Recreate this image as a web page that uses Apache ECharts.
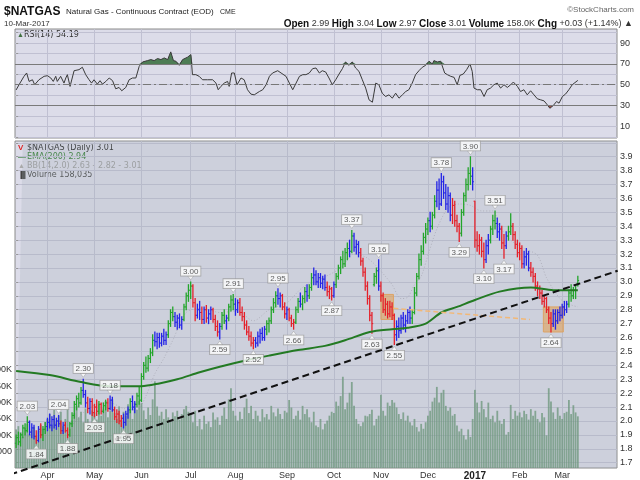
<!DOCTYPE html>
<html>
<head>
<meta charset="utf-8">
<script src="https://cdn.jsdelivr.net/npm/echarts@6/dist/echarts.min.js"></script>
<style>
  html, body { margin: 0; padding: 0; background: #fff; }
  #chart { width: 640px; height: 480px; }
</style>
</head>
<body>
<div id="chart"></div>
<script>
// x axis is the trading-day index (0 = 11-Mar-2016, 251 = 10-Mar-2017)
var monthIdx = [14, 35, 56, 78, 98, 121, 142, 163, 184, 205, 225, 244];
var monthNames = ['Apr', 'May', 'Jun', 'Jul', 'Aug', 'Sep', 'Oct', 'Nov', 'Dec', '2017', 'Feb', 'Mar'];

var priceTicks = [1.7, 1.8, 1.9, 2.0, 2.1, 2.2, 2.3, 2.4, 2.5, 2.6, 2.7, 2.8, 2.9, 3.0, 3.1, 3.2, 3.3, 3.4, 3.5, 3.6, 3.7, 3.8, 3.9, 4.0];
var priceLabels = [1.7, 1.8, 1.9, 2.0, 2.1, 2.2, 2.3, 2.4, 2.5, 2.6, 2.7, 2.8, 2.9, 3.0, 3.1, 3.2, 3.3, 3.4, 3.5, 3.6, 3.7, 3.8, 3.9];
var rsiTicks = [0, 10, 20, 30, 40, 50, 60, 70, 80, 90, 100];
var rsiLabels = [10, 30, 50, 70, 90];
var volLabels = [50000, 100000, 150000, 200000, 250000, 300000];

// daily bars: open, high, low, close, impulse colour
var barsMar16 = [
  [1.84,1.90,1.81,1.88,'g'],[1.88,1.92,1.83,1.85,'g'],[1.85,1.91,1.82,1.90,'g'],[1.90,1.97,1.88,1.95,'g'],
  [1.95,1.98,1.90,1.93,'g'],[1.93,2.03,1.92,1.99,'g'],[1.99,2.00,1.90,1.92,'b'],[1.92,1.98,1.88,1.95,'b'],
  [1.95,1.97,1.87,1.89,'b'],[1.89,1.93,1.84,1.86,'r'],[1.86,1.96,1.85,1.94,'b'],[1.94,1.98,1.88,1.90,'r'],
  [1.90,1.96,1.86,1.94,'g'],[1.94,1.99,1.91,1.96,'g']
];
var barsApr = [
  [1.96,2.02,1.93,1.99,'b'],[1.99,2.05,1.95,1.97,'b'],[1.97,2.03,1.93,2.01,'b'],[2.01,2.04,1.95,1.97,'b'],
  [1.97,2.02,1.94,2.00,'b'],[2.00,2.04,1.96,1.98,'b'],[1.98,2.00,1.91,1.93,'r'],[1.93,1.99,1.91,1.97,'b'],
  [1.97,1.99,1.92,1.93,'r'],[1.93,1.95,1.88,1.90,'r'],[1.90,1.99,1.89,1.98,'g'],[1.98,2.06,1.96,2.04,'g'],
  [2.04,2.14,2.02,2.12,'g'],[2.12,2.18,2.08,2.16,'g'],[2.16,2.20,2.10,2.13,'g'],[2.13,2.24,2.12,2.22,'g'],
  [2.22,2.30,2.17,2.19,'b'],[2.19,2.22,2.10,2.13,'b'],[2.13,2.17,2.06,2.09,'r'],[2.09,2.16,2.05,2.14,'b'],
  [2.14,2.16,2.04,2.06,'r']
];
var barsMay = [
  [2.06,2.12,2.03,2.10,'r'],[2.10,2.15,2.04,2.07,'r'],[2.07,2.14,2.05,2.12,'g'],[2.12,2.13,2.05,2.07,'r'],
  [2.07,2.13,2.06,2.11,'g'],[2.11,2.15,2.08,2.13,'g'],[2.13,2.16,2.07,2.09,'r'],[2.09,2.18,2.08,2.15,'b'],
  [2.15,2.17,2.07,2.08,'b'],[2.08,2.10,2.01,2.03,'r'],[2.03,2.08,1.99,2.05,'r'],[2.05,2.07,1.98,2.00,'r'],
  [2.00,2.04,1.96,2.02,'r'],[2.02,2.05,1.95,1.99,'b'],[1.99,2.07,1.97,2.05,'b'],[2.05,2.10,2.02,2.08,'b'],
  [2.08,2.16,2.06,2.14,'g'],[2.14,2.18,2.08,2.10,'b'],[2.10,2.14,2.06,2.12,'b'],[2.12,2.20,2.10,2.18,'g'],
  [2.18,2.24,2.12,2.15,'g']
];
var barsJun = [
  [2.15,2.34,2.14,2.32,'g'],[2.32,2.42,2.30,2.40,'g'],[2.40,2.46,2.35,2.38,'g'],[2.38,2.47,2.36,2.45,'g'],
  [2.45,2.52,2.42,2.49,'g'],[2.49,2.62,2.47,2.58,'g'],[2.58,2.64,2.54,2.57,'b'],[2.57,2.63,2.52,2.60,'b'],
  [2.60,2.63,2.53,2.56,'b'],[2.56,2.63,2.54,2.61,'b'],[2.61,2.66,2.55,2.58,'b'],[2.58,2.64,2.55,2.62,'b'],
  [2.62,2.72,2.60,2.70,'g'],[2.70,2.80,2.68,2.78,'g'],[2.78,2.82,2.72,2.75,'g'],[2.75,2.78,2.68,2.71,'b'],
  [2.71,2.76,2.66,2.74,'b'],[2.74,2.77,2.67,2.69,'b'],[2.69,2.75,2.66,2.73,'b'],[2.73,2.84,2.72,2.82,'g'],
  [2.82,2.92,2.80,2.90,'g'],[2.90,2.98,2.86,2.94,'g']
];
var barsJul = [
  [2.94,3.00,2.88,2.97,'g'],[2.97,2.98,2.82,2.85,'r'],[2.85,2.88,2.72,2.76,'r'],[2.76,2.84,2.74,2.80,'b'],
  [2.80,2.86,2.73,2.78,'b'],[2.78,2.82,2.70,2.73,'r'],[2.73,2.82,2.70,2.80,'b'],[2.80,2.83,2.71,2.74,'r'],
  [2.74,2.80,2.70,2.77,'b'],[2.77,2.82,2.73,2.80,'b'],[2.80,2.81,2.71,2.73,'r'],[2.73,2.76,2.65,2.68,'r'],
  [2.68,2.72,2.61,2.64,'r'],[2.64,2.70,2.59,2.68,'b'],[2.68,2.78,2.66,2.76,'g'],[2.76,2.80,2.70,2.72,'g'],
  [2.72,2.76,2.66,2.74,'b'],[2.74,2.84,2.72,2.82,'g'],[2.82,2.90,2.79,2.87,'g'],[2.87,2.91,2.80,2.84,'g']
];
var barsAug = [
  [2.84,2.88,2.76,2.80,'b'],[2.80,2.87,2.78,2.85,'b'],[2.85,2.88,2.76,2.78,'r'],[2.78,2.82,2.72,2.75,'r'],
  [2.75,2.78,2.66,2.69,'r'],[2.69,2.72,2.62,2.64,'r'],[2.64,2.68,2.58,2.61,'r'],[2.61,2.64,2.54,2.56,'r'],
  [2.56,2.60,2.52,2.58,'r'],[2.58,2.60,2.53,2.56,'b'],[2.56,2.64,2.54,2.61,'b'],[2.61,2.66,2.56,2.63,'b'],
  [2.63,2.67,2.58,2.60,'b'],[2.60,2.68,2.58,2.66,'b'],[2.66,2.72,2.62,2.70,'g'],[2.70,2.74,2.64,2.72,'g'],
  [2.72,2.82,2.70,2.80,'g'],[2.80,2.88,2.78,2.85,'g'],[2.85,2.93,2.82,2.90,'g'],[2.90,2.95,2.84,2.88,'b'],
  [2.88,2.92,2.82,2.90,'b'],[2.90,2.91,2.80,2.82,'r'],[2.82,2.85,2.74,2.77,'r']
];
var barsSep = [
  [2.77,2.82,2.73,2.80,'b'],[2.80,2.81,2.72,2.74,'r'],[2.74,2.76,2.68,2.70,'r'],[2.70,2.73,2.66,2.71,'r'],
  [2.71,2.82,2.70,2.80,'g'],[2.80,2.88,2.78,2.86,'g'],[2.86,2.92,2.82,2.84,'b'],[2.84,2.90,2.80,2.88,'g'],
  [2.88,2.96,2.85,2.93,'g'],[2.93,2.98,2.86,2.90,'b'],[2.90,2.98,2.88,2.96,'g'],[2.96,3.06,2.94,3.03,'g'],
  [3.03,3.10,2.98,3.05,'b'],[3.05,3.08,2.98,3.00,'b'],[3.00,3.06,2.96,3.03,'b'],[3.03,3.06,2.96,2.99,'b'],
  [2.99,3.04,2.95,3.02,'b'],[3.02,3.05,2.94,2.96,'b'],[2.96,3.00,2.90,2.93,'r'],[2.93,2.97,2.88,2.95,'r'],
  [2.95,2.96,2.87,2.90,'r']
];
var barsOct = [
  [2.90,3.00,2.89,2.98,'b'],[2.98,3.06,2.96,3.04,'g'],[3.04,3.12,3.02,3.10,'g'],[3.10,3.18,3.06,3.16,'g'],
  [3.16,3.22,3.10,3.13,'g'],[3.13,3.24,3.11,3.21,'g'],[3.21,3.28,3.16,3.24,'g'],[3.24,3.30,3.18,3.22,'b'],
  [3.22,3.37,3.21,3.33,'g'],[3.33,3.35,3.22,3.25,'b'],[3.25,3.30,3.20,3.27,'b'],[3.27,3.29,3.18,3.21,'b'],
  [3.21,3.24,3.12,3.15,'r'],[3.15,3.17,3.04,3.07,'r'],[3.07,3.10,2.94,2.97,'r'],[2.97,3.00,2.84,2.88,'r'],
  [2.88,2.90,2.72,2.76,'r'],[2.76,2.78,2.63,2.70,'r'],[2.98,3.06,2.97,3.04,'g'],[3.04,3.10,2.99,3.08,'g'],
  [3.08,3.16,2.94,2.97,'b']
];
var barsNov = [
  [2.97,3.00,2.86,2.90,'r'],[2.90,2.92,2.78,2.80,'r'],[2.80,2.88,2.76,2.84,'r'],[2.84,2.86,2.74,2.77,'r'],
  [2.77,2.86,2.75,2.82,'r'],[2.82,2.85,2.73,2.76,'r'],[2.76,2.77,2.55,2.62,'r'],[2.62,2.72,2.58,2.68,'b'],
  [2.68,2.74,2.60,2.65,'b'],[2.65,2.76,2.63,2.74,'b'],[2.74,2.78,2.66,2.69,'b'],[2.69,2.76,2.64,2.72,'b'],
  [2.72,2.80,2.70,2.78,'b'],[2.78,2.82,2.70,2.74,'b'],[2.74,2.80,2.70,2.78,'g'],[2.78,2.96,2.77,2.92,'g'],
  [2.92,3.06,2.90,3.04,'g'],[3.04,3.20,3.02,3.16,'g'],[3.16,3.26,3.12,3.22,'g'],[3.22,3.35,3.20,3.32,'g'],
  [3.32,3.42,3.28,3.38,'g']
];
var barsDec = [
  [3.38,3.46,3.34,3.44,'g'],[3.44,3.50,3.36,3.40,'b'],[3.40,3.50,3.38,3.48,'g'],[3.48,3.62,3.46,3.58,'g'],
  [3.58,3.72,3.54,3.66,'b'],[3.66,3.74,3.52,3.56,'b'],[3.56,3.78,3.55,3.72,'b'],[3.72,3.76,3.60,3.64,'b'],
  [3.64,3.70,3.52,3.56,'b'],[3.56,3.68,3.50,3.62,'b'],[3.62,3.64,3.44,3.48,'b'],[3.48,3.60,3.42,3.55,'r'],
  [3.55,3.58,3.40,3.44,'r'],[3.44,3.48,3.36,3.40,'r'],[3.40,3.42,3.29,3.35,'r'],[3.35,3.52,3.33,3.50,'g'],
  [3.50,3.64,3.48,3.62,'g'],[3.62,3.74,3.58,3.70,'g'],[3.70,3.82,3.66,3.78,'g'],[3.78,3.90,3.70,3.76,'g'],
  [3.76,3.82,3.66,3.72,'b']
];
var barsJan = [
  [3.58,3.58,3.25,3.30,'r'],[3.30,3.36,3.22,3.26,'r'],[3.26,3.34,3.20,3.30,'r'],[3.30,3.32,3.18,3.22,'r'],
  [3.22,3.28,3.10,3.16,'r'],[3.16,3.30,3.14,3.26,'b'],[3.26,3.34,3.20,3.30,'b'],[3.30,3.40,3.28,3.38,'g'],
  [3.38,3.48,3.34,3.44,'g'],[3.44,3.51,3.38,3.42,'g'],[3.42,3.46,3.32,3.36,'b'],[3.36,3.42,3.30,3.38,'b'],
  [3.38,3.40,3.24,3.28,'r'],[3.28,3.34,3.17,3.26,'r'],[3.26,3.36,3.24,3.33,'b'],[3.33,3.40,3.30,3.36,'g'],
  [3.36,3.49,3.34,3.40,'g'],[3.40,3.42,3.30,3.34,'r'],[3.34,3.36,3.24,3.27,'r'],[3.27,3.30,3.18,3.21,'r']
];
var barsFeb = [
  [3.21,3.28,3.16,3.24,'r'],[3.24,3.26,3.10,3.13,'r'],[3.13,3.22,3.10,3.18,'b'],[3.18,3.24,3.12,3.20,'b'],
  [3.20,3.22,3.08,3.10,'b'],[3.10,3.14,3.04,3.07,'r'],[3.07,3.10,3.00,3.04,'r'],[3.04,3.06,2.94,2.97,'r'],
  [2.97,3.00,2.90,2.95,'r'],[2.95,2.97,2.88,2.92,'r'],[2.92,2.94,2.84,2.86,'r'],[2.86,2.90,2.82,2.88,'r'],
  [2.88,2.89,2.78,2.80,'r'],[2.80,2.82,2.70,2.74,'r'],[2.74,2.78,2.64,2.70,'r'],[2.70,2.80,2.68,2.77,'b'],
  [2.77,2.80,2.66,2.72,'b'],[2.72,2.80,2.70,2.78,'b'],[2.78,2.82,2.72,2.76,'b']
];
var barsMar17 = [
  [2.76,2.84,2.74,2.82,'b'],[2.82,2.86,2.76,2.80,'b'],[2.80,2.86,2.78,2.84,'b'],[2.84,2.94,2.82,2.92,'g'],
  [2.92,2.98,2.86,2.90,'g'],[2.90,2.96,2.88,2.94,'g'],[2.94,2.98,2.88,2.98,'g'],[2.99,3.04,2.97,3.01,'g']
];

// daily volume, thousands
var volMar16 = [118,128,110,96,122,135,104,118,126,98,115,132,120,140];
var volApr = [150,165,132,178,140,160,172,128,150,185,120,145,168,190,155,172,140,182,150,130,176];
var volMay = [170,148,195,160,182,205,155,175,210,168,150,188,140,172,160,195,180,150,200,178,205];
var volJun = [198,176,150,185,162,210,265,188,160,172,150,180,155,142,170,158,175,148,165,180,190,172];
var volJul = [165,140,175,128,150,118,160,135,142,125,170,148,155,132,160,185,150,210,244,175];
var volAug = [160,145,172,150,185,212,168,190,150,175,160,142,180,155,165,148,190,170,158,182,165,150,175];
var volSep = [170,208,185,150,160,175,148,190,165,180,155,140,172,130,125,150,118,135,145,160,172];
var volOct = [168,203,190,220,279,180,200,230,263,190,150,135,128,140,160,158,165,178,130,150,160];
var volNov = [224,175,160,200,190,208,200,185,165,150,170,145,160,140,130,150,125,112,135,120,140];
var volDec = [160,175,203,215,248,200,230,239,190,175,185,160,165,130,112,120,100,87,118,95,150];
var volJan = [239,200,170,205,180,155,200,150,160,140,175,145,135,150,102,110,193,150,175,160];
var volFeb = [170,155,175,165,148,180,160,175,150,140,168,155,100,244,203,170,150,185,160];
var volMar17 = [150,168,172,208,165,192,170,158];

// EMA(200): [day, value]
var emaPts = [[0,2.36],[15,2.33],[29,2.28],[42,2.25],[56,2.25],[64,2.27],[72,2.30],[82,2.35],[91,2.39],
  [104,2.44],[113,2.47],[126,2.51],[138,2.54],[147,2.58],[158,2.64],[168,2.66],[175,2.67],[183,2.70],
  [190,2.78],[197,2.82],[205,2.87],[216,2.93],[230,2.96],[240,2.94],[251,2.94]];

// Bollinger bands (14, 2.0)
var bbDay =   [0,   8,   16,  24,  30,  36,  42,  48,  54,  58,  62,  66,  70,  76,  83,  91,  99,  106, 113, 121, 128, 136, 145, 151, 156, 160, 165, 168, 172, 175, 178, 181, 184, 188, 193, 198, 203, 208, 213, 216, 221, 227, 233, 237, 243, 247, 251];
var bbUpper = [2.02,2.03,2.10,2.08,2.30,2.32,2.26,2.24,2.22,2.45,2.70,2.78,2.84,3.00,2.95,2.94,2.93,2.94,2.99,2.99,3.11,3.14,3.30,3.45,3.50,3.50,3.42,3.35,3.20,3.28,3.52,3.68,3.80,3.90,3.92,3.95,4.00,3.97,3.93,3.72,3.54,3.47,3.42,3.24,3.08,3.02,3.01];
var bbMid =   [1.88,1.90,1.97,1.97,2.06,2.12,2.13,2.09,2.08,2.18,2.34,2.45,2.58,2.78,2.81,2.78,2.79,2.72,2.80,2.85,2.96,3.02,3.10,3.20,3.18,3.13,3.04,2.98,2.88,2.89,2.98,3.04,3.19,3.38,3.53,3.56,3.55,3.51,3.51,3.40,3.30,3.24,3.19,3.03,2.88,2.84,2.82];
var bbLower = [1.74,1.78,1.84,1.86,1.82,1.92,2.00,1.94,1.95,1.92,1.98,2.10,2.32,2.56,2.66,2.63,2.65,2.51,2.62,2.72,2.82,2.90,2.89,2.94,2.86,2.76,2.66,2.62,2.55,2.50,2.44,2.40,2.58,2.85,3.14,3.16,3.11,3.06,3.09,3.08,3.07,3.02,2.96,2.82,2.68,2.66,2.63];

// RSI(14): [day, value]
var rsiPts = [[0,45],[1.3,50],[3.5,58],[4.7,61.3],[5.8,53.2],[7.3,54.8],[8.3,50],[10.2,54.8],[12.5,58.1],
  [14,58.7],[15.5,56.5],[16.6,53.2],[17.7,58.1],[18.4,53.2],[19.9,58.1],[21.4,51.6],[22.2,56.5],[22.9,59.7],
  [24.1,48.4],[25.9,63.5],[28.1,64.5],[29.6,66.8],[31.1,59.7],[32.6,54.8],[33.7,51.6],[34.8,54.8],[36.3,50.6],
  [37.5,53.9],[38.6,50.6],[40.1,53.2],[41.6,56.5],[43.1,53.9],[44.5,46.1],[46,47.4],[47.2,44.2],[49,47.4],
  [50.5,54.8],[52,56.5],[53.5,56.5],[55,67.7],[56.5,71.9],[58.7,73.2],[60.2,74.2],[61.7,73.2],[63.2,75.2],
  [64.7,74.2],[66.2,75.8],[67.7,74.2],[69.1,81.6],[70.3,73.2],[71.4,72.6],[72.9,68.7],[74.4,74.2],[76.6,76.5],
  [78.1,79],[78.8,59.7],[80.3,59.7],[81.8,58.1],[83.3,54.8],[85.5,54.8],[87.8,54.8],[89.3,51.6],[90.3,45.2],
  [91.5,48.4],[93,51.6],[94.5,53.2],[95.2,48.4],[96.3,61.3],[97.5,61.3],[98.7,50],[100.5,56.5],[101.9,54.8],
  [103.4,45.2],[104.9,41],[106.4,40.3],[108.7,43.5],[110.2,45.2],[111.7,50],[113.2,58.1],[114.6,61.3],
  [116.9,63.5],[118.4,61.3],[120.6,58.1],[122.1,51.6],[123.6,45.2],[125.1,51.6],[126.6,58.1],[128.1,59.7],
  [129.5,59.7],[131,61.3],[132.5,65.5],[134,66.1],[135.5,61.3],[136.8,63.5],[138.3,62.3],[139.8,56.5],
  [141.3,50],[142.8,54.8],[144.3,60.3],[145.8,65.5],[147.2,71.9],[148.7,68.7],[150.2,71.9],[151.7,66.1],
  [153.2,62.9],[154.7,54.8],[156.2,46.8],[157.7,35.5],[159.2,33.2],[160.7,51.6],[162.1,50],[163.6,41.9],
  [165.1,38.7],[166.6,40.3],[168.1,37.1],[169.6,41.9],[171.1,37.1],[172.6,40.3],[174.1,43.5],[175.5,45.2],
  [177,51.6],[178.5,59.7],[180,63.5],[181.5,66.8],[183,68.7],[184.5,72.6],[186,70],[186.7,73.2],[188.2,71.9],
  [189.7,72.6],[190.4,74.2],[191.5,61.3],[192.7,59.7],[194.2,58.1],[195.7,57.1],[197.1,50],[198.3,59],
  [199.8,60.3],[201.3,64.5],[202.8,70],[203.8,62.9],[204.6,46.8],[206.1,45.2],[207.6,45.2],[209.1,38.7],
  [210.5,45.2],[212,46.8],[213.5,50],[215,51.6],[216.5,46.8],[218,50],[219.5,47.4],[221,50],[222.2,52.6],
  [224,48.4],[225.4,43.5],[226.9,45.2],[228.4,40.3],[229.9,44.2],[231.4,40.3],[232.9,36.5],[234.4,35.5],
  [235.9,34.5],[237.4,30.6],[238.5,27.4],[240,30],[241.5,33.9],[242.6,32.3],[244.1,38.7],[245.5,41],
  [247,45.2],[248.5,50],[251,54.2]];

// labelled swing highs / lows
var peaks = [[5,2.03],[19,2.04],[30,2.30],[42,2.18],[78,3.00],[97,2.91],[117,2.95],[150,3.37],[162,3.16],[190,3.78],[203,3.90],[214,3.51]];
var troughs = [[9,1.84],[23,1.88],[35,2.03],[48,1.95],[91,2.59],[106,2.52],[124,2.66],[141,2.87],[159,2.63],[169,2.55],[198,3.29],[209,3.10],[218,3.17],[239,2.64]];

// annotations drawn on the chart
var trendLine = [[-7.2,1.59],[268.8,3.08]];
var orangeLine = [[168.6,2.81],[229.6,2.73]];
var boxes = [[163,2.91,168.6,2.73],[235.6,2.82,244.5,2.64]];

var impulse = { g: '#22a52a', r: '#e5202a', b: '#2424e6' };
var panelBg = '#dcdce9';
var gridCol = '#c0c0d2';
var font = 'Liberation Sans';

var bars = [].concat(barsMar16, barsApr, barsMay, barsJun, barsJul, barsAug, barsSep, barsOct, barsNov, barsDec, barsJan, barsFeb, barsMar17);
var volume = [].concat(volMar16, volApr, volMay, volJun, volJul, volAug, volSep, volOct, volNov, volDec, volJan, volFeb, volMar17);

function renderBar(params, api) {
  var x = api.value(0);
  var o = api.coord([x, api.value(1)]);
  var h = api.coord([x, api.value(2)]);
  var l = api.coord([x, api.value(3)]);
  var c = api.coord([x, api.value(4)]);
  var col = impulse[bars[params.dataIndex][4]];
  return {
    type: 'group',
    children: [
      { type: 'line', shape: { x1: h[0], y1: h[1] - 0.5, x2: l[0], y2: l[1] + 0.5 }, style: { stroke: col, lineWidth: 1.3 } },
      { type: 'line', shape: { x1: o[0] - 1.3, y1: o[1], x2: o[0], y2: o[1] }, style: { stroke: col, lineWidth: 1 } },
      { type: 'line', shape: { x1: c[0], y1: c[1], x2: c[0] + 1.3, y2: c[1] }, style: { stroke: col, lineWidth: 1 } }
    ]
  };
}

function labelStyle(pos) {
  return {
    show: true,
    position: pos,
    distance: 0,
    formatter: function (p) { return p.value[1].toFixed(2); },
    fontFamily: font,
    fontSize: 8,
    color: '#333',
    backgroundColor: '#fff',
    borderColor: '#9a9a9a',
    borderWidth: 0.8,
    padding: [1, 2, 0, 2]
  };
}

function headerText() {
  return [
    { type: 'text', x: 4, y: 12, style: { text: '$NATGAS', font: 'bold 12px ' + font, fill: '#111', verticalAlign: 'middle' } },
    { type: 'text', x: 66, y: 12, style: { text: 'Natural Gas - Continuous Contract (EOD)', font: '8px ' + font, fill: '#222', verticalAlign: 'middle' } },
    { type: 'text', x: 220, y: 12, style: { text: 'CME', font: '7px ' + font, fill: '#222', verticalAlign: 'middle' } },
    { type: 'text', x: 4, y: 24, style: { text: '10-Mar-2017', font: '8px ' + font, fill: '#333', verticalAlign: 'middle' } },
    { type: 'text', x: 634, y: 10, style: { text: '\u00a9StockCharts.com', font: '8px ' + font, fill: '#666', align: 'right', verticalAlign: 'middle' } },
    {
      type: 'text', x: 633, y: 24,
      style: {
        text: '{b|Open} 2.99 {b|High} 3.04 {b|Low} 2.97 {b|Close} 3.01 {b|Volume} 158.0K {b|Chg} +0.03 (+1.14%) \u25b2',
        font: '9px ' + font, fill: '#333', align: 'right', verticalAlign: 'middle',
        rich: { b: { font: 'bold 10px ' + font, fill: '#111' } }
      }
    },
    // RSI legend
    { type: 'text', x: 17, y: 35, style: { text: '\u25b2', font: '7px ' + font, fill: '#3f6f3f', verticalAlign: 'middle' } },
    { type: 'text', x: 24, y: 35, style: { text: 'RSI(14) 54.19', font: '8px DejaVu Sans', fill: '#333', verticalAlign: 'middle' } },
    // price panel legend
    { type: 'text', x: 18, y: 148, style: { text: '\u0056', font: 'bold 8px ' + font, fill: '#d22', verticalAlign: 'middle' } },
    { type: 'text', x: 27, y: 148, style: { text: '$NATGAS (Daily) 3.01', font: '8px DejaVu Sans', fill: '#222', verticalAlign: 'middle' } },
    { type: 'rect', shape: { x: 18, y: 156, width: 8, height: 1.6 }, style: { fill: '#2a7a2a' } },
    { type: 'text', x: 27, y: 157, style: { text: 'EMA(200) 2.94', font: '8px DejaVu Sans', fill: '#2a7a2a', verticalAlign: 'middle' } },
    { type: 'text', x: 18, y: 166, style: { text: '\u25b2', font: '7px ' + font, fill: '#aaa', verticalAlign: 'middle' } },
    { type: 'text', x: 27, y: 166, style: { text: 'BB(14,2.0) 2.63 - 2.82 - 3.01', font: '8px DejaVu Sans', fill: '#9a9a9a', verticalAlign: 'middle' } },
    { type: 'text', x: 18, y: 175, style: { text: '\u2590\u258c', font: '7px ' + font, fill: '#444', verticalAlign: 'middle' } },
    { type: 'text', x: 27, y: 175, style: { text: 'Volume 158,035', font: '8px DejaVu Sans', fill: '#444', verticalAlign: 'middle' } }
  ];
}

function desenharGrafico() {
  var chart = echarts.init(document.getElementById('chart'), null, { renderer: 'canvas' });

  var barData = bars.map(function (b, i) { return [i, b[0], b[1], b[2], b[3]]; });
  var volData = volume.map(function (v, i) { return [i, v * 1000]; });
  var bbLowData = bbDay.map(function (d, i) { return [d, bbLower[i]]; });
  var bbSpanData = bbDay.map(function (d, i) { return [d, +(bbUpper[i] - bbLower[i]).toFixed(3)]; });
  var bbMidData = bbDay.map(function (d, i) { return [d, bbMid[i]]; });
  var rsiHigh = rsiPts.map(function (p) { return [p[0], Math.max(p[1], 70)]; });
  var rsiLow = rsiPts.map(function (p) { return [p[0], Math.min(p[1], 30)]; });
  var boxAreas = boxes.map(function (b) { return [{ coord: [b[0], b[1]] }, { coord: [b[2], b[3]] }]; });

  var xCommon = {
    type: 'value', min: -0.5, max: 268.5,
    axisLine: { show: false },
    axisTick: { show: false, customValues: monthIdx },
    splitLine: { show: true, lineStyle: { color: gridCol, width: 1 } }
  };

  var option = {
    animation: false,
    backgroundColor: '#fff',
    graphic: headerText(),
    grid: [
      { left: 15, right: 23, top: 29, height: 109, outerBoundsMode: 'none', containLabel: false, show: true, backgroundColor: panelBg, borderColor: '#8a8a8a', borderWidth: 1 },
      { left: 15, right: 23, top: 141, height: 327, outerBoundsMode: 'none', containLabel: false, show: true, backgroundColor: panelBg, borderColor: '#8a8a8a', borderWidth: 1 }
    ],
    xAxis: [
      Object.assign({}, xCommon, { gridIndex: 0, axisLabel: { show: false } }),
      Object.assign({}, xCommon, {
        gridIndex: 1,
        axisLabel: {
          show: true, customValues: monthIdx, margin: 3,
          fontFamily: font, fontSize: 9, color: '#333',
          formatter: function (v) {
            var k = monthIdx.indexOf(Math.round(v));
            var name = k >= 0 ? monthNames[k] : '';
            return name === '2017' ? '{y|2017}' : name;
          },
          rich: { y: { fontFamily: font, fontSize: 10, fontWeight: 'bold', color: '#222' } }
        }
      })
    ],
    yAxis: [
      {
        gridIndex: 0, type: 'value', position: 'right', min: -1.2, max: 103.6,
        axisLine: { show: false },
        axisTick: { show: true, length: 2, customValues: rsiTicks, lineStyle: { color: '#999' } },
        axisLabel: { customValues: rsiLabels, margin: 3, fontFamily: font, fontSize: 9, color: '#333' },
        splitLine: { show: true, lineStyle: { color: gridCol } }
      },
      {
        gridIndex: 1, type: 'value', position: 'right', min: 1.662, max: 4.013,
        axisLine: { show: false },
        axisTick: { show: true, length: 2, customValues: priceTicks, lineStyle: { color: '#999' } },
        axisLabel: {
          customValues: priceLabels, margin: 3, fontFamily: font, fontSize: 9, color: '#333',
          formatter: function (v) { return v.toFixed(1); }
        },
        splitLine: { show: true, lineStyle: { color: gridCol } }
      },
      {
        gridIndex: 1, type: 'value', position: 'left', min: 0, max: 1000000,
        axisLine: { show: false },
        axisTick: { show: false },
        axisLabel: {
          customValues: volLabels, margin: 3, fontFamily: font, fontSize: 9, color: '#333',
          formatter: function (v) { return v === 50000 ? '50,000' : (v / 1000) + 'K'; }
        },
        splitLine: { show: false }
      }
    ],
    series: [
      // RSI panel
      {
        name: 'RSI fill high', type: 'line', xAxisIndex: 0, yAxisIndex: 0, data: rsiHigh,
        symbol: 'none', lineStyle: { width: 0 }, areaStyle: { origin: 70, color: '#4e7d55', opacity: 1 }, z: 2
      },
      {
        name: 'RSI fill low', type: 'line', xAxisIndex: 0, yAxisIndex: 0, data: rsiLow,
        symbol: 'none', lineStyle: { width: 0 }, areaStyle: { origin: 30, color: '#a3504a', opacity: 1 }, z: 2
      },
      {
        name: 'RSI', type: 'line', xAxisIndex: 0, yAxisIndex: 0, data: rsiPts,
        symbol: 'none', lineStyle: { color: '#3a3a3a', width: 1 }, z: 3,
        markLine: {
          silent: true, symbol: 'none', label: { show: false },
          data: [
            { yAxis: 70, lineStyle: { color: '#7a7a7a', width: 1.2, type: 'solid' } },
            { yAxis: 30, lineStyle: { color: '#7a7a7a', width: 1.2, type: 'solid' } },
            { yAxis: 50, lineStyle: { color: '#777', width: 1, type: [8, 3, 2, 3] } }
          ]
        }
      },
      // Bollinger band
      {
        name: 'BB low', type: 'line', xAxisIndex: 1, yAxisIndex: 1, data: bbLowData, stack: 'bb',
        symbol: 'none', lineStyle: { width: 0 }, z: 1
      },
      {
        name: 'BB band', type: 'line', xAxisIndex: 1, yAxisIndex: 1, data: bbSpanData, stack: 'bb',
        symbol: 'none', smooth: 0.3, lineStyle: { width: 0 },
        areaStyle: { color: 'rgba(160,172,180,0.35)' }, z: 1
      },
      {
        name: 'BB mid', type: 'line', xAxisIndex: 1, yAxisIndex: 1, data: bbMidData,
        symbol: 'none', smooth: 0.3, lineStyle: { color: '#a8a8b4', width: 0.8, type: [1, 2] }, z: 1
      },
      // volume
      {
        name: 'Volume', type: 'bar', xAxisIndex: 1, yAxisIndex: 2, data: volData,
        barWidth: 1.8, itemStyle: { color: 'rgba(112,152,128,0.8)' }, z: 2
      },
      // price bars
      {
        name: '$NATGAS', type: 'custom', xAxisIndex: 1, yAxisIndex: 1, data: barData,
        renderItem: renderBar, encode: { x: 0, y: [1, 2, 3, 4] }, z: 3
      },
      {
        name: 'EMA(200)', type: 'line', xAxisIndex: 1, yAxisIndex: 1, data: emaPts,
        symbol: 'none', smooth: 0.3, lineStyle: { color: '#237a23', width: 2 }, z: 4
      },
      // annotations
      {
        name: 'Notes', type: 'line', xAxisIndex: 1, yAxisIndex: 1, data: orangeLine,
        symbol: 'none', lineStyle: { color: '#f2b877', width: 1.5, type: [5, 3] }, z: 5,
        markArea: {
          silent: true,
          itemStyle: { color: 'rgba(245,158,60,0.6)', borderColor: '#f0a04a', borderWidth: 1 },
          data: boxAreas
        }
      },
      {
        name: 'Trend', type: 'line', xAxisIndex: 1, yAxisIndex: 1, data: trendLine, clip: false,
        symbol: 'none', lineStyle: { color: '#111', width: 2, type: [7, 4] }, z: 6
      },
      {
        name: 'Highs', type: 'scatter', xAxisIndex: 1, yAxisIndex: 1, data: peaks,
        symbol: 'triangle', symbolRotate: 180, symbolSize: [6, 4], symbolOffset: [0, -4],
        itemStyle: { color: '#fff', borderColor: '#9a9a9a', borderWidth: 0.6 },
        label: labelStyle('top'), z: 7
      },
      {
        name: 'Lows', type: 'scatter', xAxisIndex: 1, yAxisIndex: 1, data: troughs,
        symbol: 'triangle', symbolSize: [6, 4], symbolOffset: [0, 4],
        itemStyle: { color: '#fff', borderColor: '#9a9a9a', borderWidth: 0.6 },
        label: labelStyle('bottom'), z: 7
      }
    ]
  };

  chart.setOption(option);
}

desenharGrafico();
</script>
</body>
</html>
